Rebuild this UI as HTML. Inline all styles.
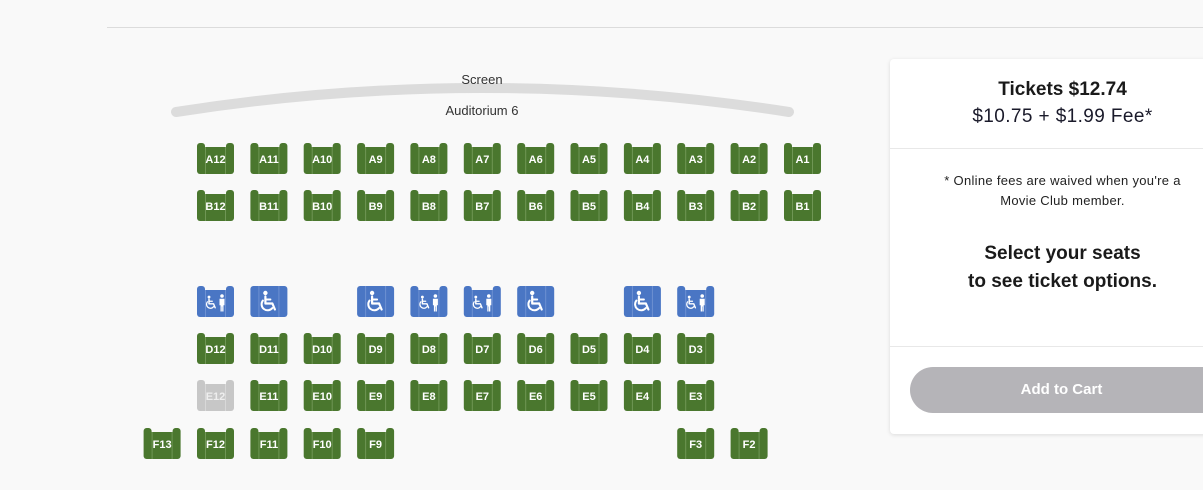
<!DOCTYPE html>
<html><head><meta charset="utf-8">
<style>
html,body{margin:0;padding:0;width:1203px;height:490px;overflow:hidden;background:#f9f9f9;font-family:"Liberation Sans","DejaVu Sans",sans-serif;}
.topline{position:absolute;left:107px;top:27px;width:1096px;height:1px;background:#dcdcdc;}
.panel{position:absolute;left:890px;top:59px;width:330px;height:375px;background:#fff;border-radius:4px;box-shadow:0 1px 4px rgba(0,0,0,.12);}
.h1{position:absolute;left:0;width:345px;text-align:center;}
.div{position:absolute;left:0;width:330px;height:1px;background:#e8e8e8;}
.btn{position:absolute;left:20px;top:308px;width:320px;height:46px;border-radius:23px;background:#b5b4b8;color:#fff;font-weight:bold;font-size:15px;line-height:46px;text-align:center;}
.btn span{position:absolute;left:0;width:303px;}
</style></head><body>
<div class="topline"></div>
<svg width="880" height="490" style="position:absolute;left:0;top:0" font-family="Liberation Sans, DejaVu Sans, sans-serif">
<defs>
<g id="wc">
<circle cx="0" cy="0" r="2.2" fill="#fff" stroke="none"/>
<path d="M0 3.5 V10.5 H7 L9.5 16.5" fill="none" stroke="#fff" stroke-width="2.2" stroke-linejoin="round" stroke-linecap="round"/>
<path d="M0 6.5 H5" fill="none" stroke="#fff" stroke-width="2" stroke-linecap="round"/>
<path d="M-2.5 7.5 A6 6 0 1 0 7 15" fill="none" stroke="#fff" stroke-width="2" stroke-linecap="round"/>
</g>
<g id="g">
<rect x="0" y="0" width="8" height="31" rx="3" fill="#4a772e"/>
<rect x="29" y="0" width="8" height="31" rx="3" fill="#4a772e"/>
<rect x="3" y="4" width="31" height="27" rx="3" fill="#4a772e"/>
<line x1="8.5" y1="4" x2="8.5" y2="31" stroke="#6f9655" stroke-width="1"/>
<line x1="28.5" y1="4" x2="28.5" y2="31" stroke="#6f9655" stroke-width="1"/>
</g>
<g id="gr">
<rect x="0" y="0" width="8" height="31" rx="3" fill="#c7c7c7"/>
<rect x="29" y="0" width="8" height="31" rx="3" fill="#c7c7c7"/>
<rect x="3" y="4" width="31" height="27" rx="3" fill="#c7c7c7"/>
<line x1="8.5" y1="4" x2="8.5" y2="31" stroke="#d8d8d8"/>
<line x1="28.5" y1="4" x2="28.5" y2="31" stroke="#d8d8d8"/>
</g>
<g id="bc">
<rect x="0" y="0" width="8" height="31" rx="3" fill="#4a76c4"/>
<rect x="29" y="0" width="8" height="31" rx="3" fill="#4a76c4"/>
<rect x="3" y="4" width="31" height="27" rx="3" fill="#4a76c4"/>
<line x1="8.5" y1="4" x2="8.5" y2="31" stroke="#6d91d2"/>
<line x1="28.5" y1="4" x2="28.5" y2="31" stroke="#6d91d2"/>
<use href="#wc" transform="translate(12,11) scale(0.65)"/>
<circle cx="25" cy="10" r="1.8" fill="#fff"/>
<path d="M22.5 12.8h5v6.5h-1v6.2h-1.3v-5h-0.4v5h-1.3v-6.2h-1z" fill="#fff"/>
</g>
<g id="bw">
<rect x="0" y="0" width="37" height="31" rx="3" fill="#4a76c4"/>
<line x1="8.5" y1="0" x2="8.5" y2="31" stroke="#6d91d2"/>
<line x1="28.5" y1="0" x2="28.5" y2="31" stroke="#6d91d2"/>
<use href="#wc" transform="translate(15,7)"/>
</g>
</defs>
<path d="M176 112 Q482 64 789 112" stroke="#dcdcdc" stroke-width="10" fill="none" stroke-linecap="round"/>
<text x="482" y="84" font-size="13" fill="#333" text-anchor="middle">Screen</text>
<text x="482" y="115" font-size="13" fill="#333" text-anchor="middle">Auditorium 6</text>
<g font-size="11" font-weight="bold" fill="#fff" text-anchor="middle">
<use href="#g" x="197" y="143"/><text x="215.5" y="163">A12</text>
<use href="#g" x="250.4" y="143"/><text x="268.9" y="163">A11</text>
<use href="#g" x="303.7" y="143"/><text x="322.2" y="163">A10</text>
<use href="#g" x="357.1" y="143"/><text x="375.6" y="163">A9</text>
<use href="#g" x="410.4" y="143"/><text x="428.9" y="163">A8</text>
<use href="#g" x="463.8" y="143"/><text x="482.3" y="163">A7</text>
<use href="#g" x="517.2" y="143"/><text x="535.7" y="163">A6</text>
<use href="#g" x="570.5" y="143"/><text x="589" y="163">A5</text>
<use href="#g" x="623.9" y="143"/><text x="642.4" y="163">A4</text>
<use href="#g" x="677.2" y="143"/><text x="695.7" y="163">A3</text>
<use href="#g" x="730.6" y="143"/><text x="749.1" y="163">A2</text>
<use href="#g" x="784" y="143"/><text x="802.5" y="163">A1</text>
<use href="#g" x="197" y="190"/><text x="215.5" y="210">B12</text>
<use href="#g" x="250.4" y="190"/><text x="268.9" y="210">B11</text>
<use href="#g" x="303.7" y="190"/><text x="322.2" y="210">B10</text>
<use href="#g" x="357.1" y="190"/><text x="375.6" y="210">B9</text>
<use href="#g" x="410.4" y="190"/><text x="428.9" y="210">B8</text>
<use href="#g" x="463.8" y="190"/><text x="482.3" y="210">B7</text>
<use href="#g" x="517.2" y="190"/><text x="535.7" y="210">B6</text>
<use href="#g" x="570.5" y="190"/><text x="589" y="210">B5</text>
<use href="#g" x="623.9" y="190"/><text x="642.4" y="210">B4</text>
<use href="#g" x="677.2" y="190"/><text x="695.7" y="210">B3</text>
<use href="#g" x="730.6" y="190"/><text x="749.1" y="210">B2</text>
<use href="#g" x="784" y="190"/><text x="802.5" y="210">B1</text>
<use href="#bc" x="197" y="286"/>
<use href="#bw" x="250.4" y="286"/>
<use href="#bw" x="357.1" y="286"/>
<use href="#bc" x="410.4" y="286"/>
<use href="#bc" x="463.8" y="286"/>
<use href="#bw" x="517.2" y="286"/>
<use href="#bw" x="623.9" y="286"/>
<use href="#bc" x="677.2" y="286"/>
<use href="#g" x="197" y="333"/><text x="215.5" y="353">D12</text>
<use href="#g" x="250.4" y="333"/><text x="268.9" y="353">D11</text>
<use href="#g" x="303.7" y="333"/><text x="322.2" y="353">D10</text>
<use href="#g" x="357.1" y="333"/><text x="375.6" y="353">D9</text>
<use href="#g" x="410.4" y="333"/><text x="428.9" y="353">D8</text>
<use href="#g" x="463.8" y="333"/><text x="482.3" y="353">D7</text>
<use href="#g" x="517.2" y="333"/><text x="535.7" y="353">D6</text>
<use href="#g" x="570.5" y="333"/><text x="589" y="353">D5</text>
<use href="#g" x="623.9" y="333"/><text x="642.4" y="353">D4</text>
<use href="#g" x="677.2" y="333"/><text x="695.7" y="353">D3</text>
<use href="#gr" x="197" y="380"/><text x="215.5" y="400" fill="#eee">E12</text>
<use href="#g" x="250.4" y="380"/><text x="268.9" y="400">E11</text>
<use href="#g" x="303.7" y="380"/><text x="322.2" y="400">E10</text>
<use href="#g" x="357.1" y="380"/><text x="375.6" y="400">E9</text>
<use href="#g" x="410.4" y="380"/><text x="428.9" y="400">E8</text>
<use href="#g" x="463.8" y="380"/><text x="482.3" y="400">E7</text>
<use href="#g" x="517.2" y="380"/><text x="535.7" y="400">E6</text>
<use href="#g" x="570.5" y="380"/><text x="589" y="400">E5</text>
<use href="#g" x="623.9" y="380"/><text x="642.4" y="400">E4</text>
<use href="#g" x="677.2" y="380"/><text x="695.7" y="400">E3</text>
<use href="#g" x="143.6" y="428"/><text x="162.1" y="448">F13</text>
<use href="#g" x="197" y="428"/><text x="215.5" y="448">F12</text>
<use href="#g" x="250.4" y="428"/><text x="268.9" y="448">F11</text>
<use href="#g" x="303.7" y="428"/><text x="322.2" y="448">F10</text>
<use href="#g" x="357.1" y="428"/><text x="375.6" y="448">F9</text>
<use href="#g" x="677.2" y="428"/><text x="695.7" y="448">F3</text>
<use href="#g" x="730.6" y="428"/><text x="749.1" y="448">F2</text>
</g>
</svg>
<div class="panel">
<div class="h1" style="top:20px;font-size:19px;font-weight:bold;color:#1a1a1a;">Tickets $12.74</div>
<div class="h1" style="top:47px;font-size:19px;color:#1a1a2a;letter-spacing:0.4px;">$10.75 + $1.99 Fee*</div>
<div class="div" style="top:89px"></div>
<div class="h1" style="top:112px;font-size:13px;line-height:20px;color:#222;letter-spacing:0.3px;">* Online fees are waived when you're a<br>Movie Club member.</div>
<div class="h1" style="top:181px;font-size:19px;line-height:28px;font-weight:bold;color:#1a1a1a;">Select your seats<br>to see ticket options.</div>
<div class="div" style="top:287px"></div>
<div class="btn"><span>Add to Cart</span></div>
</div>
</body></html>
